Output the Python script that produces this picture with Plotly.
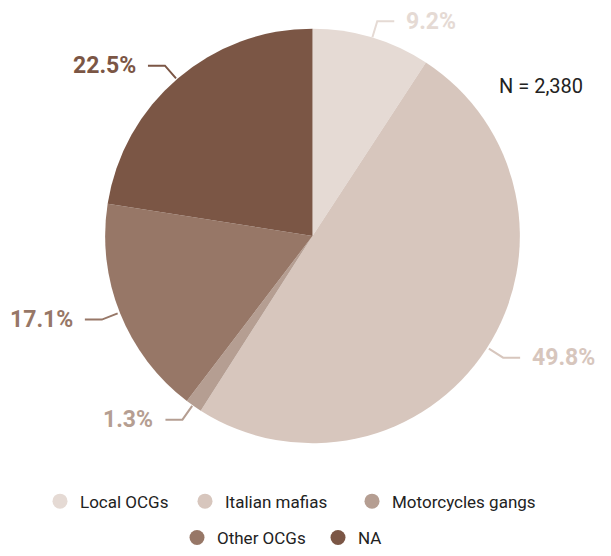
import math
import plotly.graph_objects as go

# Share of cases by type of organised crime group
categories = ["Local OCGs", "Italian mafias", "Motorcycles gangs", "Other OCGs", "NA"]
shares = [9.2, 49.8, 1.3, 17.1, 22.5]
colors = ["#e5dad4", "#d7c6bd", "#b59e92", "#977767", "#7b5645"]
total_n = "N = 2,380"

W, H = 611, 556
CX, CY, R = 312.5, 239, 210        # pie centre and radius (px)
ELBOW = 17                          # radial length of the leader line
ARM = 17                            # horizontal length of the leader line
GAP = 10                            # space between leader line and label
FONT = "Roboto, Liberation Sans, Arial, sans-serif"

# legend rows: symbol centres (px) for each entry
LEGEND_POS = [(60, 508), (205, 508), (372, 508), (197, 545), (338, 545)]


def px(x, y):
    return x / W, 1 - y / H


fig = go.Figure()
fig.add_trace(go.Pie(
    labels=categories,
    values=shares,
    sort=False,
    direction="clockwise",
    rotation=0,
    marker=dict(colors=colors, line=dict(width=0)),
    textinfo="none",
    hoverinfo="label+percent",
    showlegend=False,
    domain=dict(x=[(CX - R) / W, (CX + R) / W],
                y=[1 - (CY + R) / H, 1 - (CY - R) / H]),
))

leg_font = dict(family=FONT, size=17, color="#222222")
legend_layout = {}
for i, (name, col) in enumerate(zip(categories, colors)):
    key = "legend" if i == 0 else f"legend{i + 1}"
    fig.add_trace(go.Scatter(
        x=[None], y=[None], mode="markers", name=name,
        marker=dict(symbol="circle", size=15, color=col),
        legend=key,
    ))
    lx, ly = px(LEGEND_POS[i][0] - 20, LEGEND_POS[i][1])
    legend_layout[key] = dict(orientation="h", x=lx, xanchor="left", y=ly, yanchor="middle",
                              font=leg_font, itemwidth=30, bgcolor="rgba(0,0,0,0)")

# Percentage labels with leader lines, placed at each slice's mid-angle
tot = sum(shares)
cum = 0.0
for name, v, col in zip(categories, shares, colors):
    mid = (cum + v / 2) / tot * 2 * math.pi
    cum += v
    sx, sy = CX + R * math.sin(mid), CY - R * math.cos(mid)
    ex, ey = CX + (R + ELBOW) * math.sin(mid), CY - (R + ELBOW) * math.cos(mid)
    side = 1 if math.sin(mid) >= 0 else -1
    hx = ex + side * ARM
    x0, y0 = px(sx, sy)
    x1, y1 = px(ex, ey)
    x2, y2 = px(hx, ey)
    fig.add_shape(type="path", xref="paper", yref="paper",
                  path=f"M {x0} {y0} L {x1} {y1} L {x2} {y2}",
                  line=dict(color=col, width=2))
    tx, ty = px(hx + side * GAP, ey)
    fig.add_annotation(x=tx, y=ty, xref="paper", yref="paper",
                       text=f"<b>{v:.1f}%</b>", showarrow=False,
                       xanchor="left" if side > 0 else "right", yanchor="middle",
                       font=dict(family=FONT, size=23, color=col))

nx, ny = px(497, 87)
fig.add_annotation(x=nx, y=ny, xref="paper", yref="paper", text=total_n,
                   showarrow=False, xanchor="left", yanchor="middle",
                   font=dict(family=FONT, size=20, color="#222222"))

fig.update_layout(
    width=W, height=H,
    margin=dict(l=0, r=0, t=0, b=0),
    paper_bgcolor="white", plot_bgcolor="white",
    font=dict(family=FONT),
    xaxis=dict(visible=False), yaxis=dict(visible=False),
    **legend_layout,
)

fig.write_html("out.html")
